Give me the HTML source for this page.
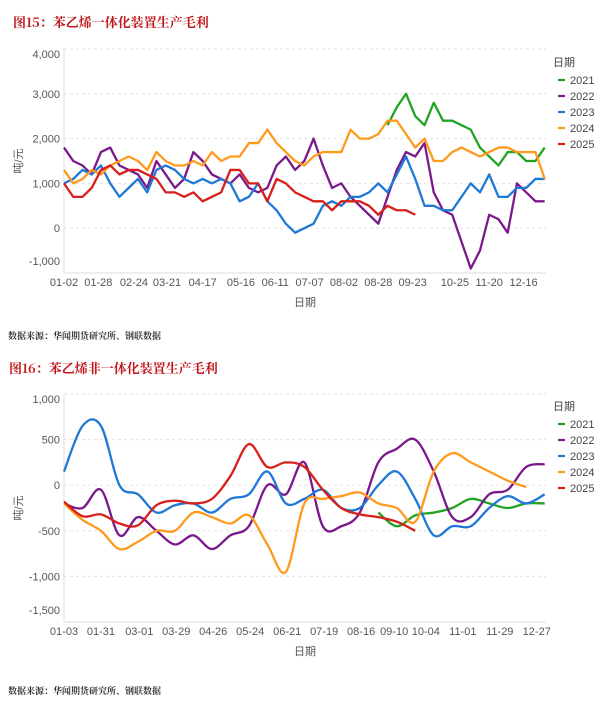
<!DOCTYPE html>
<html><head><meta charset="utf-8">
<style>
html,body{margin:0;padding:0;background:#fff;width:611px;height:703px;overflow:hidden}
svg{display:block;font-family:"Liberation Sans","Noto Sans CJK SC",sans-serif}
.ttl{font-family:"Noto Serif CJK SC","Liberation Serif",serif;font-weight:bold;fill:#c0171c;font-size:13px}
.src{font-family:"Noto Serif CJK SC","Liberation Serif",serif;font-weight:bold;fill:#333;font-size:9px}
.tk{fill:#555;font-size:11px}
.lg{fill:#444;font-size:11px}
</style></head>
<body>
<svg id="chart" width="611" height="703" viewBox="0 0 611 703">
<text class="ttl" x="13" y="27">图15：苯乙烯一体化装置生产毛利</text>
<text class="src" x="8" y="339">数据来源：华闻期货研究所、钢联数据</text>
<text class="ttl" x="9" y="373">图16：苯乙烯非一体化装置生产毛利</text>
<text class="src" x="8" y="694">数据来源：华闻期货研究所、钢联数据</text>
</svg>
<script>
// ===== Chart 15 data (weekly, step 7 days from 01-02) =====
const topTickLabels = ["01-02","01-28","02-24","03-21","04-17","05-16","06-11","07-07","08-02","08-28","09-23","10-25","11-20","12-16"];
const topTickDays = [0,26,53,78,105,134,160,186,212,238,264,296,322,348];
const topYTicks = [-1000,0,1000,2000,3000,4000];
const topYLabels = ["-1,000","0","1,000","2,000","3,000","4,000"];
const top2021 = [null,null,null,null,null,null,null,null,null,null,null,null,null,null,null,null,null,null,null,null,null,null,null,null,null,null,null,null,null,null,null,null,null,null,null,2300,2700,3000,2500,2300,2800,2400,2400,2300,2200,1800,1600,1400,1700,1700,1500,1500,1800];
const top2022 = [1800,1500,1400,1200,1700,1800,1400,1300,1200,900,1500,1200,900,1100,1700,1500,1200,1100,1000,1200,900,800,900,1400,1600,1300,1500,2000,1400,900,1000,700,500,300,100,700,1300,1700,1600,1900,800,400,300,-300,-900,-500,300,200,-100,1000,800,600,600];
const top2023 = [1000,1100,1300,1200,1400,1000,700,900,1100,800,1300,1400,1300,1100,1000,1100,1000,1100,1000,600,700,1000,600,400,100,-100,0,100,500,600,500,700,700,800,1000,800,1200,1600,1100,500,500,400,400,700,1000,800,1200,700,700,900,900,1100,1100];
const top2024 = [1300,1000,1100,1300,1200,1400,1500,1600,1500,1300,1700,1500,1400,1400,1500,1400,1700,1500,1600,1600,1900,1900,2200,1900,1700,1500,1400,1600,1700,1700,1700,2200,2000,2000,2100,2400,2400,2100,1800,2000,1500,1500,1700,1800,1700,1600,1700,1800,1800,1700,1700,1700,1100];
const top2025 = [1000,700,700,900,1300,1400,1200,1300,1300,1200,1100,800,800,700,800,600,700,800,1300,1300,1000,1000,600,1100,1000,800,700,600,600,400,600,600,600,500,300,500,400,400,300];

// ===== Chart 16 data (step 14 days from 01-03) =====
const botTickLabels = ["01-03","01-31","03-01","03-29","04-26","05-24","06-21","07-19","08-16","09-10","10-04","11-01","11-29","12-27"];
const botTickDays = [0,28,57,85,113,141,169,197,225,250,274,302,330,358];
const botYTicks = [-1500,-1000,-500,0,500,1000];
const botYLabels = ["-1,500","-1,000","-500","0","500","1,000"];
const bot2021 = [null,null,null,null,null,null,null,null,null,null,null,null,null,null,null,null,null,-300,-450,-330,-300,-250,-150,-200,-250,-200,-200];
const bot2022 = [-200,-250,-50,-550,-350,-500,-650,-550,-700,-550,-450,0,-100,250,-450,-450,-300,250,400,500,150,-350,-350,-100,-50,200,230];
const bot2023 = [150,650,650,0,-100,-300,-220,-200,-300,-150,-100,150,-200,-150,-50,-250,-250,0,150,-150,-550,-450,-450,-250,-120,-200,-100];
const bot2024 = [-200,-380,-500,-700,-620,-500,-500,-300,-350,-420,-330,-650,-950,-200,-150,-120,-80,-200,-250,-400,150,350,250,150,50,-20,null];
const bot2025 = [-180,-340,-320,-420,-440,-220,-170,-200,-150,100,450,200,250,200,-50,-250,-320,-350,-400,-500];

const colors = {"2021":"#23a323","2022":"#7a1a8a","2023":"#1f78d6","2024":"#ff9a1f","2025":"#d7201c"};
const NS = "http://www.w3.org/2000/svg";
const svg = document.getElementById("chart");
function mk(tag, attrs, parent){const e=document.createElementNS(NS,tag);for(const k in attrs)e.setAttribute(k,attrs[k]);(parent||svg).appendChild(e);return e;}

function drawChart(cfg){
  const g = mk("g",{});
  
  
  const L=64,R=546,T=cfg.top,B=cfg.bottom;
  const xDay = d => L + d/365*(R-L);
  const yV = v => B - (v-cfg.min)/(cfg.max-cfg.min)*(B-T);
  cfg.yTicks.forEach((v,i)=>{
    const y=yV(v);
    if(v!==cfg.min){
      const gl=mk("line",{x1:L,x2:R,y1:y,y2:y,stroke:"#e2e2e2","stroke-dasharray":"3,3"},g);
      
      
    }
    let ly=y+4; if(i===cfg.yTicks.length-1) ly=y+9; if(i===0) ly=y-8;
    const t=mk("text",{x:L-4,y:ly,"text-anchor":"end",class:"tk"},g);
    t.textContent=cfg.yLabels[i];
    
    
  });
  const ax=mk("line",{x1:L,x2:L,y1:T,y2:B,stroke:"#ddd"},g);
  
  
  const bx=mk("line",{x1:L,x2:R,y1:B,y2:B,stroke:"#ddd"},g);
  
  
  cfg.xLabels.forEach((s,i)=>{
    const t=mk("text",{x:xDay(cfg.xDays[i]),y:B+13,"text-anchor":"middle",class:"tk"},g);
    t.textContent=s;
    
    
  });
  const xt=mk("text",{x:(L+R)/2,y:B+33,"text-anchor":"middle",class:"tk","font-size":"12"},g);
  xt.textContent="日期";
  
  
  const cy=(T+B)/2;
  const yt=mk("text",{x:0,y:0,"text-anchor":"middle",class:"tk","font-size":"12",transform:"translate(22,"+cy+") rotate(-90)"},g);
  yt.textContent="吨/元";
  
  
  Object.keys(cfg.series).forEach(name=>{
    const vals=cfg.series[name];
    const pts=[];
    vals.forEach((v,i)=>{ if(v!==null) pts.push([xDay(i*cfg.step),yV(v)]); });
    let d="";
    if(cfg.smooth){
      d="M"+pts[0][0]+","+pts[0][1];
      for(let i=0;i<pts.length-1;i++){
        const p0=pts[i-1]||pts[i],p1=pts[i],p2=pts[i+1],p3=pts[i+2]||p2;
        const c1=[p1[0]+(p2[0]-p0[0])/6,p1[1]+(p2[1]-p0[1])/6];
        const c2=[p2[0]-(p3[0]-p1[0])/6,p2[1]-(p3[1]-p1[1])/6];
        d+=" C"+c1+" "+c2+" "+p2;
      }
    } else {
      d="M"+pts.map(p=>p.join(",")).join(" L");
    }
    const path=mk("path",{d:d,fill:"none",stroke:colors[name],"stroke-width":"2.3","stroke-linejoin":"round"},g);
    
    
  });
  const lt=mk("text",{x:553,y:cfg.legY,class:"lg"},g);
  lt.textContent="日期";
  
  
  Object.keys(colors).forEach((name,i)=>{
    const y=cfg.legY+18+i*16;
    const ln=mk("line",{x1:558,x2:565,y1:y-4,y2:y-4,stroke:colors[name],"stroke-width":"2.2"},g);
    
    
    const tx=mk("text",{x:570,y:y,class:"lg"},g);
    tx.textContent=name;
    
    
  });
}

drawChart({name:"chart15",top:49,bottom:273,min:-1000,max:4000,yTicks:topYTicks,yLabels:topYLabels,
  xLabels:topTickLabels,xDays:topTickDays,step:7,smooth:false,legY:66,
  series:{"2021":top2021,"2022":top2022,"2023":top2023,"2024":top2024,"2025":top2025}});
drawChart({name:"chart16",top:394,bottom:622,min:-1500,max:1000,yTicks:botYTicks,yLabels:botYLabels,
  xLabels:botTickLabels,xDays:botTickDays,step:14,smooth:true,legY:410,
  series:{"2021":bot2021,"2022":bot2022,"2023":bot2023,"2024":bot2024,"2025":bot2025}});
</script>
</body></html>
